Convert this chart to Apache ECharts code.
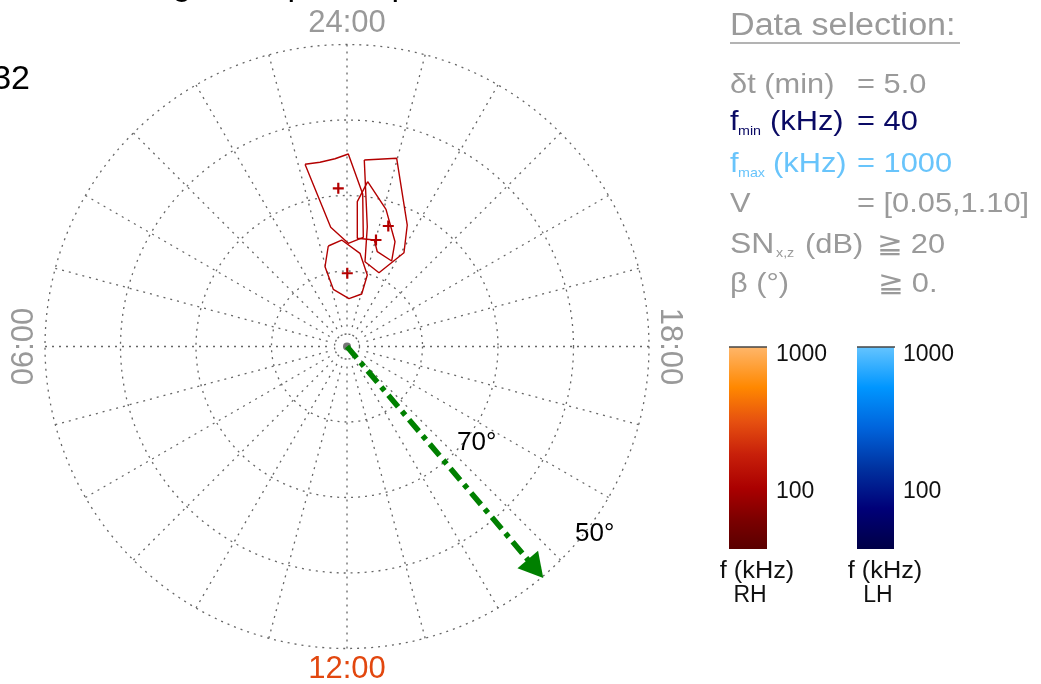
<!DOCTYPE html>
<html>
<head>
<meta charset="utf-8">
<title>Polar projection</title>
<script src="https://cdn.jsdelivr.net/npm/echarts@6/dist/echarts.min.js"></script>
<style>
  html, body { margin: 0; padding: 0; background: #fff; }
  #chart { width: 1041px; height: 684px; }
</style>
</head>
<body>
<div id="chart"></div>
<script>
// contour polygons, points are [colatitude (deg), MLT (h)]
const contourA = [[24.77, 0.865], [24.66, 0.556], [24.92, 0.244], [25.50, 23.974], [20.31, 23.608],
                  [14.62, 23.434], [13.67, 23.952], [15.94, 0.519]];
const contourB = [[24.81, 23.647], [25.78, 23.014], [17.96, 22.241], [14.54, 21.915], [10.65, 22.437],
                  [11.48, 23.201], [16.09, 23.359]];
const contourC = [[13.54, 0.703], [14.12, 0.19], [12.46, 23.471], [9.84, 22.943], [7.22, 22.957],
                  [6.34, 23.84], [7.79, 0.898], [10.96, 1.027]];
const contourD = [[22.0, 23.523], [18.89, 22.942], [15.27, 22.359], [12.78, 22.16], [13.18, 22.819],
                  [14.56, 23.041], [14.40, 23.637], [19.23, 23.729]];
const centroids = [[20.98, 0.21], [16.87, 22.739], [14.62, 22.985], [9.70, 23.985]];

// beam direction (green arrow)
const beamMLT = 14.687;
const beamLine = [[0, beamMLT], [37.4, beamMLT]];
const beamHead = [[38.6, beamMLT]];

const hourLabels = [
  { mlt: 0, text: '24:00', color: '#999999', rot: 0 },
  { mlt: 6, text: '06:00', color: '#999999', rot: Math.PI / 2 },
  { mlt: 12, text: '12:00', color: '#e2470f', rot: 0 },
  { mlt: 18, text: '18:00', color: '#999999', rot: -Math.PI / 2 }
];

// colour bars (log scale, kHz)
const cbRange = [40, 1000];
const cbTicks = [100, 1000];

const RED = '#b30000';
const GRIDC = '#666666';
const FONT = '"Liberation Sans", Arial, Helvetica, sans-serif';
const CX = 347, CY = 346.5, R = 302;
const CB = { top: 347, height: 202, width: 38, rhLeft: 729, lhLeft: 857 };

function closed(p) { return p.concat([p[0]]); }

function txt(x, y, text, size, color, extra) {
  return Object.assign({
    type: 'text', x: x, y: y, silent: true,
    style: {
      text: text, fill: color, fontSize: size, fontFamily: FONT,
      align: 'left', textAlign: 'left', verticalAlign: 'middle', textVerticalAlign: 'middle'
    }
  }, extra || {});
}
function centred(el) {
  el.style.align = 'center'; el.style.textAlign = 'center';
  return el;
}
function rightAligned(el) {
  el.style.align = 'right'; el.style.textAlign = 'right';
  return el;
}

const chart = echarts.init(document.getElementById('chart'));

const graphics = [];

// title (cropped off at the top, only descenders show)
[['g', 182], ['p', 297], ['p', 401]].forEach(function (g) {
  graphics.push(centred(txt(g[1], -14, g[0], 34, '#000')));
});
graphics.push(rightAligned(txt(30, 80, '32', 34, '#000')));

// hour labels around the dial
hourLabels.forEach(function (h) {
  const a = h.mlt * 15 * Math.PI / 180;
  const d = R + 21;
  graphics.push(centred(txt(CX - d * Math.sin(a), CY - d * Math.cos(a), h.text, 31, h.color, { rotation: h.rot })));
});

// latitude labels
graphics.push(txt(457, 443, '70°', 26, '#000'));
graphics.push(txt(575, 534, '50°', 26, '#000'));

// data selection panel
const SX = 1.1;
function ptxt(x, y, text, size, color) { return txt(x, y, text, size, color, { scaleX: SX }); }
const GRAY = '#9a9a9a', NAVY = '#0a0a64', LBLUE = '#68c4fb';
graphics.push(ptxt(730, 26, 'Data selection:', 31, GRAY));
graphics.push({ type: 'line', silent: true, shape: { x1: 730, y1: 43, x2: 960, y2: 43 }, style: { stroke: GRAY, lineWidth: 1.5 } });
graphics.push(ptxt(730, 85, 'δt (min)', 28, GRAY));
graphics.push(ptxt(857, 85, '= 5.0', 28, GRAY));
graphics.push(ptxt(730, 122, 'f', 28, NAVY));
graphics.push(ptxt(738, 131, 'min', 13, NAVY));
graphics.push(ptxt(770, 122, '(kHz)', 28, NAVY));
graphics.push(ptxt(857, 122, '= 40', 28, NAVY));
graphics.push(ptxt(730, 164, 'f', 28, LBLUE));
graphics.push(ptxt(738, 173, 'max', 13, LBLUE));
graphics.push(ptxt(773, 164, '(kHz)', 28, LBLUE));
graphics.push(ptxt(857, 164, '= 1000', 28, LBLUE));
graphics.push(ptxt(730, 204, 'V', 28, GRAY));
graphics.push(ptxt(857, 204, '= [0.05,1.10]', 28, GRAY));
graphics.push(ptxt(730, 245, 'SN', 29, GRAY));
graphics.push(ptxt(776, 253, 'x,z', 13, GRAY));
graphics.push(ptxt(805, 245, '(dB)', 28, GRAY));
graphics.push(ptxt(877, 245, '≧ 20', 28, GRAY));
graphics.push(ptxt(730, 284, 'β (°)', 28, GRAY));
graphics.push(ptxt(878, 284, '≧ 0.', 28, GRAY));

// colour bar captions and top edges
[[CB.rhLeft, 'RH'], [CB.lhLeft, 'LH']].forEach(function (c) {
  const mid = c[0] + CB.width / 2;
  graphics.push(centred(txt(mid + 9, 572, 'f (kHz)', 23, '#111', { scaleX: 1.1 })));
  graphics.push(centred(txt(mid + 2, 596, c[1], 23, '#111')));
  graphics.push({ type: 'line', silent: true, z: 10,
    shape: { x1: c[0], y1: CB.top, x2: c[0] + CB.width, y2: CB.top },
    style: { stroke: '#444', lineWidth: 1.5 } });
});

function grad(stops) {
  return new echarts.graphic.LinearGradient(0, 0, 0, 1, stops.map(function (s) { return { offset: s[0], color: s[1] }; }));
}
const rhGrad = grad([[0, '#ffb66a'], [0.2, '#ff8800'], [0.37, '#e65010'], [0.53, '#c8200a'], [0.7, '#aa0000'], [0.86, '#7a0000'], [1, '#5a0000']]);
const lhGrad = grad([[0, '#64c4ff'], [0.2, '#0096ff'], [0.4, '#0064dc'], [0.6, '#0032a0'], [0.8, '#000078'], [1, '#000046']]);

function cbAxis(i) {
  return {
    gridIndex: i, type: 'log', min: cbRange[0], max: cbRange[1], position: 'right',
    axisLine: { show: false }, axisTick: { show: false }, splitLine: { show: false },
    axisLabel: {
      margin: 9, fontSize: 23, color: '#111', fontFamily: FONT, showMinLabel: false,
      formatter: function (v) {
        const t = cbTicks.find(function (k) { return Math.abs(k - v) < 1e-6 * k; });
        if (!t) return '';
        return t === cbRange[1] ? '{top|' + t + '}' : String(t);
      },
      rich: { top: { fontSize: 23, color: '#111', fontFamily: FONT, padding: [16, 0, 0, 0] } }
    }
  };
}

const dotted = { color: GRIDC, type: [2, 5], width: 1.3 };

const option = {
  animation: false,
  backgroundColor: '#fff',
  textStyle: { fontFamily: FONT },
  polar: [
    { center: [CX, CY], radius: [20, R] },
    { center: [CX, CY], radius: R }
  ],
  angleAxis: [
    { polarIndex: 0, type: 'value', min: 0, max: 24, interval: 1, startAngle: 90, clockwise: false,
      axisLine: { show: false }, axisTick: { show: false }, axisLabel: { show: false },
      splitLine: { show: true, lineStyle: dotted } },
    { polarIndex: 1, type: 'value', min: 0, max: 24, interval: 1, startAngle: 90, clockwise: false,
      axisLine: { show: false }, axisTick: { show: false }, axisLabel: { show: false },
      splitLine: { show: false } }
  ],
  radiusAxis: [
    { polarIndex: 0, type: 'value', min: 0, max: 40, show: false },
    { polarIndex: 1, type: 'value', min: 0, max: 40, interval: 10,
      axisLine: { show: false }, axisTick: { show: false }, axisLabel: { show: false },
      splitLine: { show: true, lineStyle: dotted } }
  ],
  grid: [
    { left: CB.rhLeft, top: CB.top, width: CB.width, height: CB.height, show: true, backgroundColor: rhGrad, borderWidth: 0 },
    { left: CB.lhLeft, top: CB.top, width: CB.width - 1, height: CB.height, show: true, backgroundColor: lhGrad, borderWidth: 0 }
  ],
  xAxis: [
    { gridIndex: 0, type: 'value', show: false },
    { gridIndex: 1, type: 'value', show: false }
  ],
  yAxis: [cbAxis(0), cbAxis(1)],
  graphic: graphics,
  series: [
    { type: 'scatter', coordinateSystem: 'polar', polarIndex: 1, data: [[0, 0]], symbol: 'circle', symbolSize: 25,
      itemStyle: { color: 'rgba(0,0,0,0)', borderColor: GRIDC, borderWidth: 1.3, borderType: [2, 2], opacity: 1 }, silent: true },
    { type: 'scatter', coordinateSystem: 'polar', polarIndex: 1, data: [[0, 0]], symbol: 'circle', symbolSize: 8,
      itemStyle: { color: '#777', opacity: 1 }, silent: true },
    ...[contourA, contourB, contourC, contourD].map(function (p) {
      return { type: 'line', coordinateSystem: 'polar', polarIndex: 1, data: closed(p), symbol: 'none',
        lineStyle: { color: RED, width: 1.4 }, silent: true };
    }),
    { type: 'scatter', coordinateSystem: 'polar', polarIndex: 1, data: centroids,
      symbol: 'path://M4,0H6V4H10V6H6V10H4V6H0V4H4Z', symbolSize: 11, itemStyle: { color: RED, opacity: 1 }, silent: true },
    { type: 'line', coordinateSystem: 'polar', polarIndex: 1, data: beamLine, symbol: 'none', z: 5,
      lineStyle: { color: '#008000', width: 5.5, type: [15, 6, 5, 6] }, silent: true },
    { type: 'scatter', coordinateSystem: 'polar', polarIndex: 1, data: beamHead, symbol: 'triangle',
      symbolSize: [27, 24], symbolRotate: -139.7, z: 5, itemStyle: { color: '#008000', opacity: 1 }, silent: true }
  ]
};

chart.setOption(option);
</script>
</body>
</html>
